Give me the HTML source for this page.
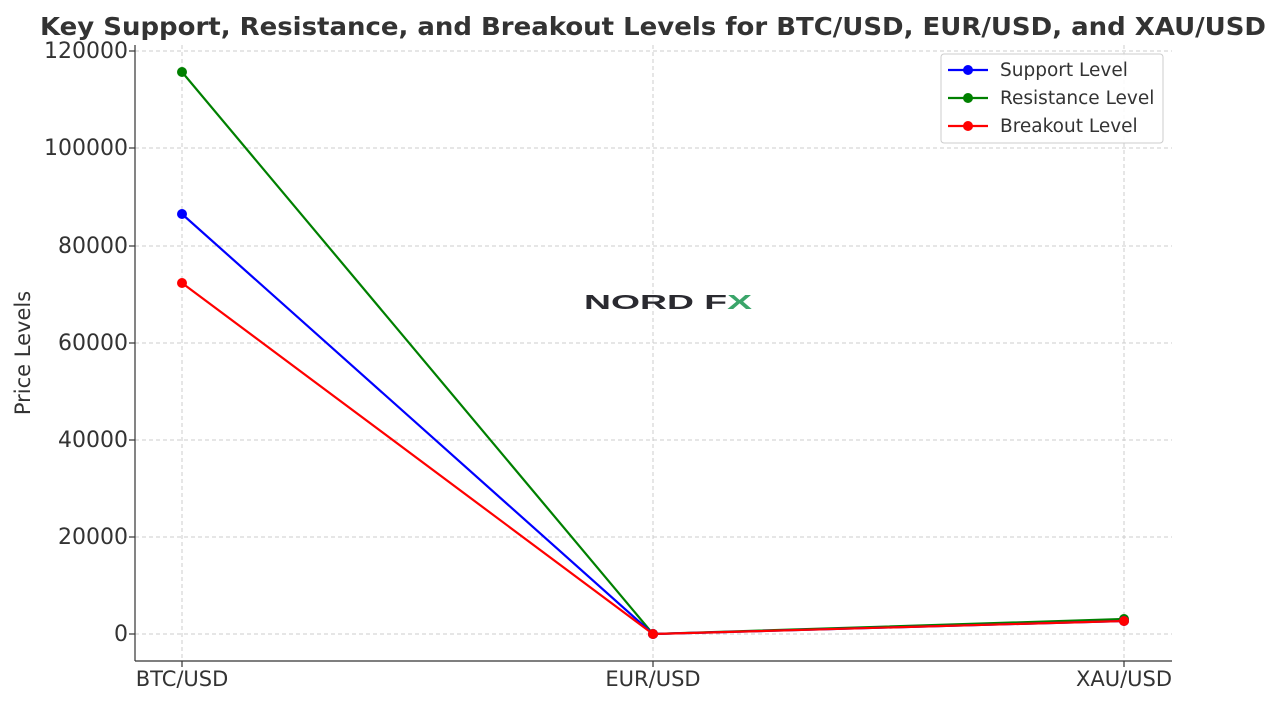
<!DOCTYPE html>
<html><head><style>body{margin:0;background:#fff}svg{display:block}</style></head><body>
<svg width="1280" height="704" xmlns="http://www.w3.org/2000/svg" font-family="DejaVu Sans, Liberation Sans, sans-serif">
<rect width="1280" height="704" fill="#fff"/>
<text x="653" y="35" text-anchor="middle" font-size="25" font-weight="bold" fill="#333" textLength="1226" lengthAdjust="spacingAndGlyphs">Key Support, Resistance, and Breakout Levels for BTC/USD, EUR/USD, and XAU/USD</text>
<g stroke="#ccc" stroke-width="1" stroke-dasharray="4,3">
<line x1="135" x2="1172" y1="634" y2="634"/><line x1="135" x2="1172" y1="537" y2="537"/><line x1="135" x2="1172" y1="440" y2="440"/><line x1="135" x2="1172" y1="343" y2="343"/><line x1="135" x2="1172" y1="246" y2="246"/><line x1="135" x2="1172" y1="148" y2="148"/><line x1="135" x2="1172" y1="51" y2="51"/>
<line x1="182" x2="182" y1="45" y2="661"/><line x1="653" x2="653" y1="45" y2="661"/><line x1="1124" x2="1124" y1="45" y2="661"/>
</g>
<g font-size="22" fill="#333" text-anchor="end">
<text x="128" y="641">0</text><text x="128" y="544">20000</text><text x="128" y="447">40000</text><text x="128" y="350">60000</text><text x="128" y="253">80000</text><text x="128" y="155">100000</text><text x="128" y="58">120000</text>
</g>
<g stroke="#333" stroke-width="1.2">
<line x1="135" x2="135" y1="45" y2="661"/><line x1="135" x2="1172" y1="661" y2="661"/>
<line x1="129" x2="135" y1="634" y2="634"/><line x1="129" x2="135" y1="537" y2="537"/><line x1="129" x2="135" y1="440" y2="440"/><line x1="129" x2="135" y1="343" y2="343"/><line x1="129" x2="135" y1="246" y2="246"/><line x1="129" x2="135" y1="148" y2="148"/><line x1="129" x2="135" y1="51" y2="51"/>
<line x1="182" x2="182" y1="661" y2="667"/><line x1="653" x2="653" y1="661" y2="667"/><line x1="1124" x2="1124" y1="661" y2="667"/>
</g>
<g font-size="21" fill="#333" text-anchor="middle">
<text x="182" y="686">BTC/USD</text><text x="653" y="686">EUR/USD</text><text x="1124" y="686">XAU/USD</text>
</g>
<text transform="translate(30,353) rotate(-90)" text-anchor="middle" font-size="21" fill="#333">Price Levels</text>
<text x="584" y="309" font-size="20" font-weight="bold" fill="#2a2a30" font-family="Liberation Sans, sans-serif" textLength="168" lengthAdjust="spacingAndGlyphs">NORD F<tspan fill="#3aa56a">X</tspan></text>
<polyline points="182,72 653,634 1124,619" fill="none" stroke="#008000" stroke-width="2.2"/>
<polyline points="182,214 653,634 1124,621" fill="none" stroke="#0000ff" stroke-width="2.2"/>
<polyline points="182,283 653,634 1124,621" fill="none" stroke="#ff0000" stroke-width="2.2"/>
<g fill="#008000"><circle cx="182" cy="72" r="5"/><circle cx="653" cy="634" r="5"/><circle cx="1124" cy="619" r="5"/></g>
<g fill="#0000ff"><circle cx="182" cy="214" r="5"/><circle cx="653" cy="634" r="5"/><circle cx="1124" cy="621" r="5"/></g>
<g fill="#ff0000"><circle cx="182" cy="283" r="5"/><circle cx="653" cy="634" r="5"/><circle cx="1124" cy="621" r="5"/></g>
<rect x="941" y="54" width="222" height="89" rx="3" fill="#fff" fill-opacity="0.9" stroke="#ccc"/>
<g stroke-width="2.2"><line x1="948" x2="988" y1="70" y2="70" stroke="#0000ff"/><line x1="948" x2="988" y1="98" y2="98" stroke="#008000"/><line x1="948" x2="988" y1="126" y2="126" stroke="#ff0000"/></g>
<circle cx="968" cy="70" r="5" fill="#0000ff"/><circle cx="968" cy="98" r="5" fill="#008000"/><circle cx="968" cy="126" r="5" fill="#ff0000"/>
<g font-size="18.5" fill="#333"><text x="1000" y="76">Support Level</text><text x="1000" y="104">Resistance Level</text><text x="1000" y="132">Breakout Level</text></g>
</svg>
</body></html>
